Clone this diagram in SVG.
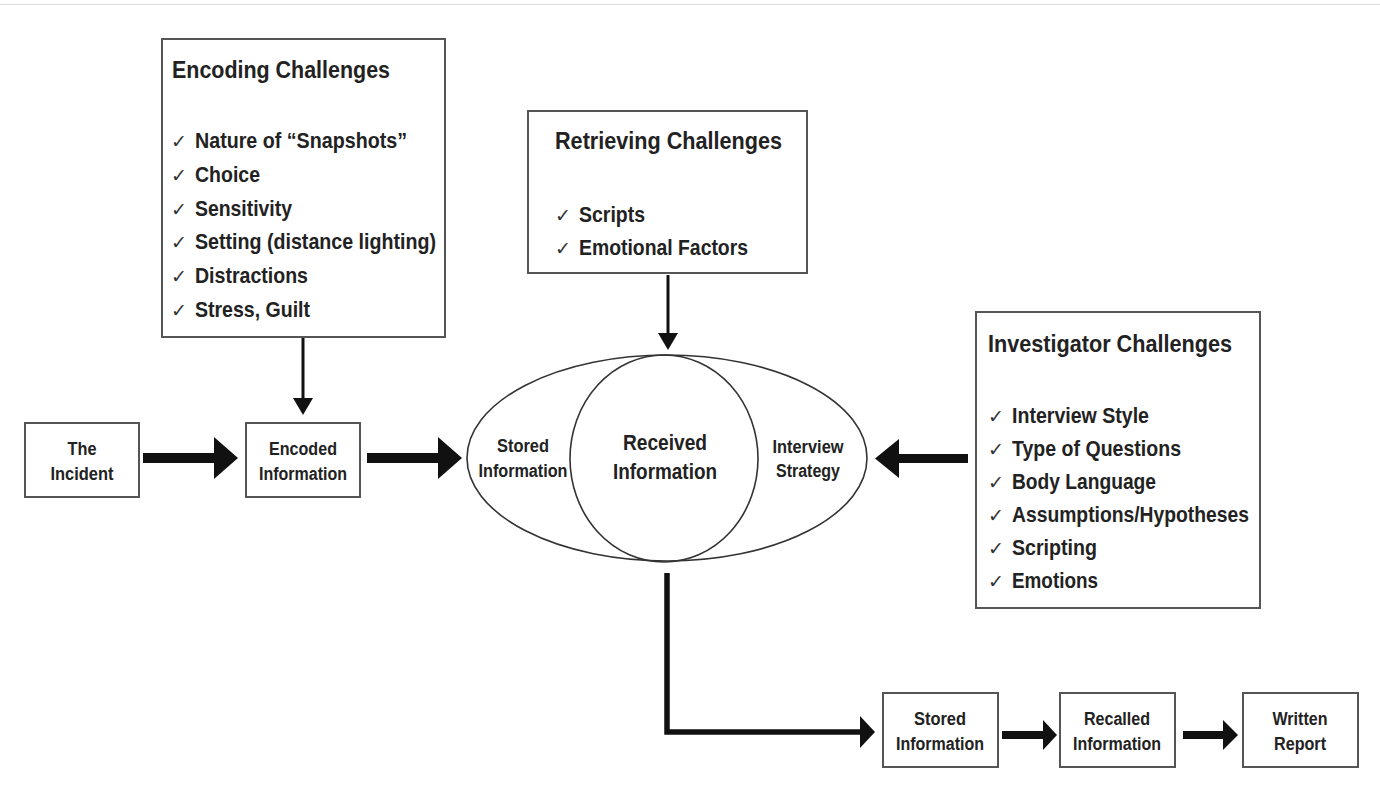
<svg xmlns="http://www.w3.org/2000/svg" width="1380" height="790" viewBox="0 0 1380 790">
<style>
.box{fill:#fff;stroke:#555;stroke-width:2}
.shape{fill:none;stroke:#333;stroke-width:1.6}
.t{font-family:"Liberation Sans",Arial,sans-serif;font-weight:bold;fill:#222}
.title{font-size:24px}
.item{font-size:22px}
.lbl{font-size:18px;text-anchor:middle}
.big{font-size:22px;text-anchor:middle}
.ck{font-family:"DejaVu Sans",sans-serif;font-weight:normal;font-size:19px;fill:#333}
.ar{fill:#111}
.ln{stroke:#111;fill:none}
</style>
<rect width="1380" height="790" fill="#fff"/>
<line x1="0" y1="4.5" x2="1380" y2="4.5" stroke="#ddd" stroke-width="1"/>

<g id="connectors">
  <line class="ln" x1="303" y1="337" x2="303" y2="400" stroke-width="3"/>
  <polygon class="ar" points="293,398 313,398 303,415"/>
  <line class="ln" x1="668" y1="275" x2="668" y2="335" stroke-width="3"/>
  <polygon class="ar" points="658,333 678,333 668,350"/>
  <rect class="ar" x="143" y="453" width="73" height="10"/>
  <polygon class="ar" points="214,437 238,458 214,479"/>
  <rect class="ar" x="367" y="453" width="73" height="10"/>
  <polygon class="ar" points="438,437 462,458 438,479"/>
  <rect class="ar" x="896" y="454" width="72" height="9"/>
  <polygon class="ar" points="899,439 875,458.5 899,478"/>
  <path class="ln" d="M667,573 V732 H862" stroke-width="5.5"/>
  <polygon class="ar" points="860,716 875,732 860,748"/>
  <rect class="ar" x="1002" y="731" width="43" height="8"/>
  <polygon class="ar" points="1043,720 1057,735 1043,750"/>
  <rect class="ar" x="1183" y="731" width="42" height="8"/>
  <polygon class="ar" points="1223,720 1238,735 1223,750"/>
</g>

<g id="encoding-challenges">
  <rect class="box" x="162" y="39" width="283" height="298"/>
  <text class="t title" x="172" y="78" textLength="218" lengthAdjust="spacingAndGlyphs">Encoding Challenges</text>
  <text class="ck" x="171" y="148">✓</text><text class="t item" x="195" y="148" textLength="212" lengthAdjust="spacingAndGlyphs">Nature of “Snapshots”</text>
  <text class="ck" x="171" y="182">✓</text><text class="t item" x="195" y="182" textLength="65" lengthAdjust="spacingAndGlyphs">Choice</text>
  <text class="ck" x="171" y="216">✓</text><text class="t item" x="195" y="216" textLength="97" lengthAdjust="spacingAndGlyphs">Sensitivity</text>
  <text class="ck" x="171" y="249">✓</text><text class="t item" x="195" y="249" textLength="241" lengthAdjust="spacingAndGlyphs">Setting (distance lighting)</text>
  <text class="ck" x="171" y="283">✓</text><text class="t item" x="195" y="283" textLength="113" lengthAdjust="spacingAndGlyphs">Distractions</text>
  <text class="ck" x="171" y="317">✓</text><text class="t item" x="195" y="317" textLength="115" lengthAdjust="spacingAndGlyphs">Stress, Guilt</text>
</g>

<g id="retrieving-challenges">
  <rect class="box" x="528" y="111" width="279" height="162"/>
  <text class="t title" x="555" y="149" textLength="227" lengthAdjust="spacingAndGlyphs">Retrieving Challenges</text>
  <text class="ck" x="555" y="222">✓</text><text class="t item" x="579" y="222" textLength="66" lengthAdjust="spacingAndGlyphs">Scripts</text>
  <text class="ck" x="555" y="255">✓</text><text class="t item" x="579" y="255" textLength="169" lengthAdjust="spacingAndGlyphs">Emotional Factors</text>
</g>

<g id="investigator-challenges">
  <rect class="box" x="976" y="312" width="284" height="296"/>
  <text class="t title" x="988" y="352" textLength="244" lengthAdjust="spacingAndGlyphs">Investigator Challenges</text>
  <text class="ck" x="988" y="423">✓</text><text class="t item" x="1012" y="423" textLength="137" lengthAdjust="spacingAndGlyphs">Interview Style</text>
  <text class="ck" x="988" y="456">✓</text><text class="t item" x="1012" y="456" textLength="169" lengthAdjust="spacingAndGlyphs">Type of Questions</text>
  <text class="ck" x="988" y="489">✓</text><text class="t item" x="1012" y="489" textLength="144" lengthAdjust="spacingAndGlyphs">Body Language</text>
  <text class="ck" x="988" y="522">✓</text><text class="t item" x="1012" y="522" textLength="237" lengthAdjust="spacingAndGlyphs">Assumptions/Hypotheses</text>
  <text class="ck" x="988" y="555">✓</text><text class="t item" x="1012" y="555" textLength="85" lengthAdjust="spacingAndGlyphs">Scripting</text>
  <text class="ck" x="988" y="588">✓</text><text class="t item" x="1012" y="588" textLength="86" lengthAdjust="spacingAndGlyphs">Emotions</text>
</g>

<g id="the-incident">
  <rect class="box" x="25" y="423" width="114" height="74"/>
  <text class="t lbl" x="82" y="455" textLength="29" lengthAdjust="spacingAndGlyphs">The</text>
  <text class="t lbl" x="82" y="480" textLength="63" lengthAdjust="spacingAndGlyphs">Incident</text>
</g>

<g id="encoded-information">
  <rect class="box" x="246" y="423" width="114" height="74"/>
  <text class="t lbl" x="303" y="455" textLength="68" lengthAdjust="spacingAndGlyphs">Encoded</text>
  <text class="t lbl" x="303" y="480" textLength="88" lengthAdjust="spacingAndGlyphs">Information</text>
</g>

<g id="memory-ellipse">
  <ellipse class="shape" cx="667" cy="458" rx="200" ry="103"/>
  <ellipse class="shape" cx="664" cy="458.5" rx="94" ry="103.5"/>
  <text class="t lbl" x="523" y="452" textLength="52" lengthAdjust="spacingAndGlyphs">Stored</text>
  <text class="t lbl" x="523" y="477" textLength="89" lengthAdjust="spacingAndGlyphs">Information</text>
  <text class="t big" x="665" y="450" textLength="84" lengthAdjust="spacingAndGlyphs">Received</text>
  <text class="t big" x="665" y="479" textLength="104" lengthAdjust="spacingAndGlyphs">Information</text>
  <text class="t lbl" x="808" y="453" textLength="71" lengthAdjust="spacingAndGlyphs">Interview</text>
  <text class="t lbl" x="808" y="477" textLength="64" lengthAdjust="spacingAndGlyphs">Strategy</text>
</g>

<g id="stored-information">
  <rect class="box" x="883" y="693" width="115" height="74"/>
  <text class="t lbl" x="940" y="725" textLength="52" lengthAdjust="spacingAndGlyphs">Stored</text>
  <text class="t lbl" x="940" y="750" textLength="88" lengthAdjust="spacingAndGlyphs">Information</text>
</g>

<g id="recalled-information">
  <rect class="box" x="1060" y="693" width="115" height="74"/>
  <text class="t lbl" x="1117" y="725" textLength="66" lengthAdjust="spacingAndGlyphs">Recalled</text>
  <text class="t lbl" x="1117" y="750" textLength="88" lengthAdjust="spacingAndGlyphs">Information</text>
</g>

<g id="written-report">
  <rect class="box" x="1243" y="693" width="115" height="74"/>
  <text class="t lbl" x="1300" y="725" textLength="55" lengthAdjust="spacingAndGlyphs">Written</text>
  <text class="t lbl" x="1300" y="750" textLength="52" lengthAdjust="spacingAndGlyphs">Report</text>
</g>
</svg>
